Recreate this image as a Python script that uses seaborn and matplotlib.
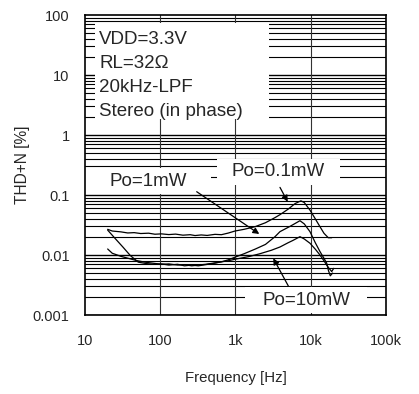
import numpy as np
import pandas as pd
import matplotlib
matplotlib.use("Agg")
import matplotlib.pyplot as plt
from matplotlib.patches import Rectangle
import seaborn as sns

# THD+N vs frequency, three output levels
freq_a = [20, 23, 30, 37, 45, 55, 70, 85, 104, 130, 160, 200, 250, 290, 350, 420,
          534, 650, 800, 985, 1300, 1815, 2500, 3350, 3900, 5000, 6200, 7400, 8200,
          9770, 11500, 13270, 15000, 17100, 19000]
thd_a = [0.0268, 0.0251, 0.0243, 0.0233, 0.0236, 0.0228, 0.0231, 0.0222, 0.0225, 0.0219,
         0.0223, 0.0214, 0.0218, 0.0211, 0.0216, 0.0212, 0.0221, 0.0218, 0.0232, 0.0251,
         0.0268, 0.0296, 0.0345, 0.0420, 0.0470, 0.0580, 0.0720, 0.0800, 0.0750,
         0.0560, 0.0400, 0.0296, 0.0230, 0.0194, 0.0194]

freq_b = [20, 25, 32, 40, 51, 65, 80, 104, 130, 170, 210, 262, 320, 400, 500, 650, 800,
          985, 1300, 1815, 2500, 3350, 3900, 5300, 7190, 8200, 9770, 11500, 13270, 15000,
          16300, 17200, 18200, 19500]
thd_b = [0.0260, 0.0190, 0.0135, 0.0098, 0.0076, 0.0072, 0.0070, 0.0071, 0.0068, 0.0070,
         0.0066, 0.0068, 0.0066, 0.0069, 0.0072, 0.0077, 0.0083, 0.0092, 0.0105, 0.0125,
         0.0150, 0.0202, 0.0245, 0.0300, 0.0373, 0.0330, 0.0245, 0.0160, 0.0114, 0.0088,
         0.0073, 0.0055, 0.0045, 0.0050]

freq_c = [20, 23, 30, 37.6, 48, 62.7, 80, 104, 130, 170, 210, 262, 320, 400, 500, 650,
          800, 985, 1500, 2110, 3000, 3900, 5000, 5800, 7190, 8200, 9770, 11500, 13270,
          15000, 16300, 17500, 19000, 20200]
thd_c = [0.0126, 0.0107, 0.0095, 0.0088, 0.0081, 0.0076, 0.0073, 0.0070, 0.0071, 0.0068,
         0.0069, 0.0066, 0.0068, 0.0070, 0.0073, 0.0077, 0.0080, 0.0085, 0.0094, 0.0105,
         0.0120, 0.0136, 0.0160, 0.0175, 0.0202, 0.0185, 0.0157, 0.0125, 0.0100, 0.0080,
         0.0068, 0.0060, 0.0053, 0.0060]

x_ticks = [10, 100, 1000, 10000, 100000]
x_labels = ["10", "100", "1k", "10k", "100k"]
y_ticks = [0.001, 0.01, 0.1, 1, 10, 100]
y_labels = ["0.001", "0.01", "0.1", "1", "10", "100"]

info_lines = ["VDD=3.3V", "RL=32\u03a9", "20kHz-LPF", "Stereo (in phase)"]

df = pd.concat([
    pd.DataFrame({"freq": freq_a, "thd": thd_a, "curve": "a"}),
    pd.DataFrame({"freq": freq_b, "thd": thd_b, "curve": "b"}),
    pd.DataFrame({"freq": freq_c, "thd": thd_c, "curve": "c"}),
])

sns.set_style("white")
plt.rcParams["font.family"] = ["Liberation Sans", "DejaVu Sans"]

fig, ax = plt.subplots(figsize=(4.19, 3.94), dpi=100)
fig.subplots_adjust(left=0.2029, right=0.9212, top=0.9619, bottom=0.2005)

sns.lineplot(data=df, x="freq", y="thd", units="curve", estimator=None, sort=False,
             color="black", linewidth=0.9, ax=ax, zorder=4)

ax.set_xscale("log")
ax.set_yscale("log")
ax.set_xlim(10, 100000)
ax.set_ylim(0.001, 100)

# grid: every minor line horizontally, decades only vertically
for dec in y_ticks[:-1]:
    for k in range(1, 10):
        ax.axhline(dec * k, color="black", lw=1.0 if k == 1 else 0.8, zorder=1)
for xv in x_ticks[1:-1]:
    ax.axvline(xv, color="#333333", lw=0.8, zorder=1)

ax.set_xticks(x_ticks)
ax.set_xticklabels(x_labels)
ax.set_yticks(y_ticks)
ax.set_yticklabels(y_labels)
ax.minorticks_off()
ax.tick_params(axis="x", length=0, pad=14, labelsize=10.5)
ax.tick_params(axis="y", length=0, pad=11, labelsize=10.5)
for s in ax.spines.values():
    s.set_color("black")
    s.set_linewidth(1.2)
    s.set_zorder(6)

ax.set_xlabel("Frequency [Hz]", fontsize=10.8, labelpad=16)
ax.set_ylabel("THD+N [%]", fontsize=11.2, labelpad=2)

# white boxes behind the labels
boxes = [(0.033, 0.653, 0.578, 0.322), (0.437, 0.435, 0.410, 0.085),
         (0.0, 0.405, 0.419, 0.085), (0.532, 0.008, 0.405, 0.085)]
for bx, by, bw, bh in boxes:
    ax.add_patch(Rectangle((bx, by), bw, bh, transform=ax.transAxes,
                           facecolor="white", edgecolor="none", zorder=2))

for i, line in enumerate(info_lines):
    ax.text(0.047, 0.918 - i * 0.08, line, transform=ax.transAxes,
            fontsize=13.5, va="center", ha="left", zorder=3)

ax.text(0.64, 0.478, "Po=0.1mW", transform=ax.transAxes, fontsize=13.5,
        ha="center", va="center", zorder=3)
ax.text(0.21, 0.445, "Po=1mW", transform=ax.transAxes, fontsize=13.5,
        ha="center", va="center", zorder=3)
ax.text(0.735, 0.05, "Po=10mW", transform=ax.transAxes, fontsize=13.5,
        ha="center", va="center", zorder=3)

arrow = dict(arrowstyle="-|>", color="black", lw=0.9, mutation_scale=9, shrinkA=0, shrinkB=0)
ax.annotate("", xy=(2070, 0.0224), xytext=(305, 0.1135), arrowprops=arrow, zorder=5)
ax.annotate("", xy=(4940, 0.0773), xytext=(3900, 0.134), arrowprops=arrow, zorder=5)
ax.annotate("", xy=(3180, 0.0088), xytext=(5040, 0.00304), arrowprops=arrow, zorder=5)

fig.savefig("out.png", dpi=100)
plt.close(fig)
